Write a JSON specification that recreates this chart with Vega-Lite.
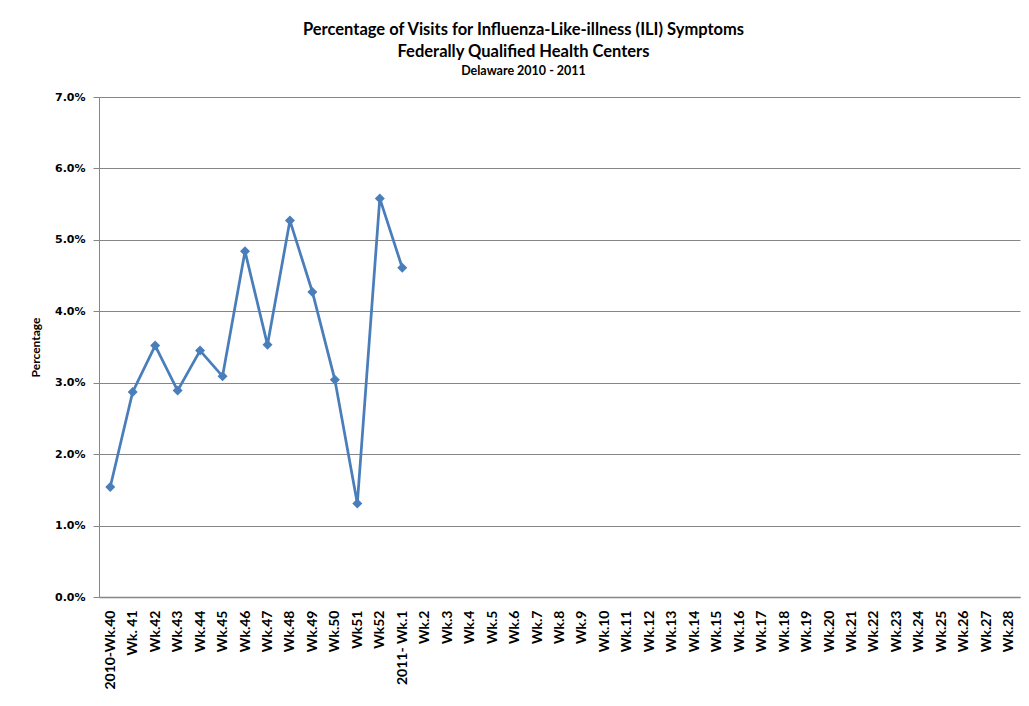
{
  "$schema": "https://vega.github.io/schema/vega-lite/v6.json",
  "autosize": "none",
  "width": 921,
  "height": 500,
  "padding": {"left": 99, "top": 97, "right": 9, "bottom": 109},
  "background": "white",
  "title": {
    "text": ["Percentage  of Visits for Influenza-Like-illness (ILI) Symptoms", "Federally Qualified Health Centers"],
    "subtitle": "Delaware 2010 - 2011",
    "font": "Lato",
    "fontSize": 16.5,
    "fontWeight": "bold",
    "lineHeight": 22,
    "subtitleFont": "Lato",
    "subtitleFontSize": 12.5,
    "subtitleFontWeight": "bold",
    "subtitlePadding": 4,
    "color": "black",
    "subtitleColor": "black",
    "anchor": "middle",
    "dx": -36,
    "offset": 14
  },
  "data": {
    "values": [
      {"week": "2010-Wk.40", "pct": 0.0154},
      {"week": "Wk. 41", "pct": 0.0287},
      {"week": "Wk.42", "pct": 0.0352},
      {"week": "Wk.43", "pct": 0.0289},
      {"week": "Wk.44", "pct": 0.0345},
      {"week": "Wk.45", "pct": 0.0309},
      {"week": "Wk.46", "pct": 0.0484},
      {"week": "Wk.47", "pct": 0.0353},
      {"week": "Wk.48", "pct": 0.0527},
      {"week": "Wk.49", "pct": 0.0427},
      {"week": "Wk.50", "pct": 0.0304},
      {"week": "Wk51", "pct": 0.0131},
      {"week": "Wk52", "pct": 0.0558},
      {"week": "2011- Wk.1", "pct": 0.0461}
    ]
  },
  "encoding": {
    "x": {
      "field": "week",
      "type": "nominal",
      "sort": null,
      "scale": {
        "domain": ["2010-Wk.40", "Wk. 41", "Wk.42", "Wk.43", "Wk.44", "Wk.45", "Wk.46", "Wk.47", "Wk.48", "Wk.49", "Wk.50", "Wk51", "Wk52", "2011- Wk.1", "Wk.2", "Wk.3", "Wk.4", "Wk.5", "Wk.6", "Wk.7", "Wk.8", "Wk.9", "Wk.10", "Wk.11", "Wk.12", "Wk.13", "Wk.14", "Wk.15", "Wk.16", "Wk.17", "Wk.18", "Wk.19", "Wk.20", "Wk.21", "Wk.22", "Wk.23", "Wk.24", "Wk.25", "Wk.26", "Wk.27", "Wk.28"],
        "paddingInner": 0,
        "paddingOuter": 0
      },
      "axis": {
        "title": null,
        "labelAngle": -90,
        "labelAlign": "right",
        "labelBaseline": "middle",
        "labelFont": "Lato",
        "labelFontSize": 14,
        "labelFontWeight": "bold",
        "labelColor": "black",
        "labelPadding": 13,
        "ticks": false,
        "domainColor": "#868686",
        "domainWidth": 1.5,
        "grid": false
      }
    },
    "y": {
      "field": "pct",
      "type": "quantitative",
      "scale": {"domain": [0, 0.07], "nice": false},
      "axis": {
        "title": "Percentage",
        "titleFont": "Lato",
        "titleFontSize": 12,
        "titleFontWeight": "bold",
        "titleColor": "black",
        "titlePadding": 12,
        "format": ".1%",
        "values": [0, 0.01, 0.02, 0.03, 0.04, 0.05, 0.06, 0.07],
        "labelFont": "DejaVu Sans",
        "labelFontSize": 11,
        "labelFontWeight": "bold",
        "labelColor": "black",
        "labelPadding": 8,
        "tickSize": 6,
        "tickColor": "#868686",
        "domainColor": "#868686",
        "gridColor": "#868686",
        "gridWidth": 1,
        "grid": true
      }
    }
  },
  "layer": [
    {"mark": {"type": "line", "color": "#4a7ebb", "strokeWidth": 2.75}},
    {"mark": {"type": "point", "shape": "diamond", "filled": true, "opacity": 1, "color": "#4a7ebb", "size": 100}}
  ],
  "config": {"view": {"stroke": null}}
}
